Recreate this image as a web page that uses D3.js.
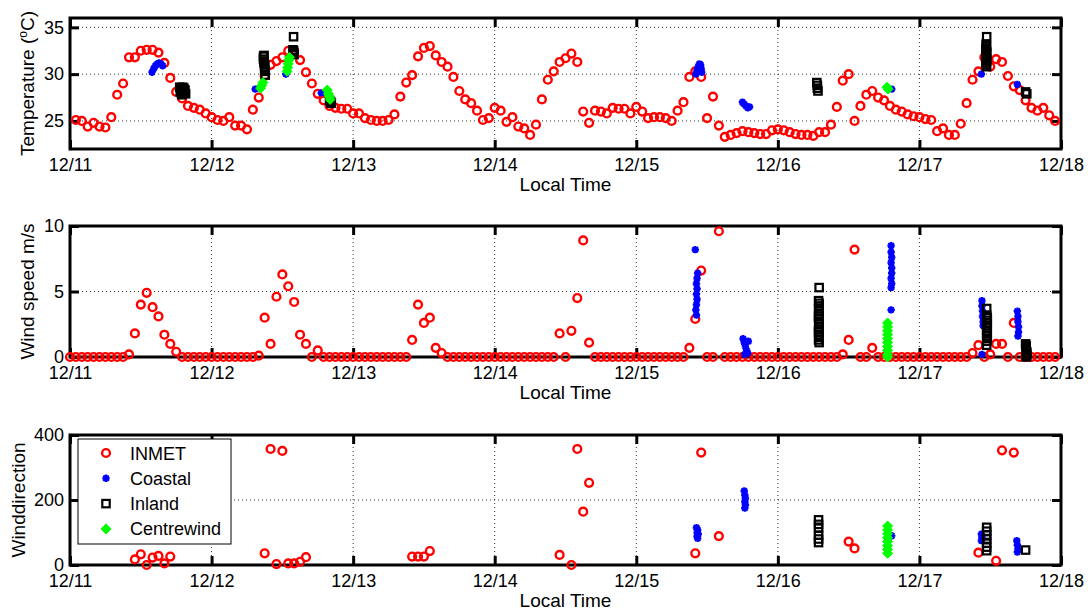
<!DOCTYPE html>
<html>
<head>
<meta charset="utf-8">
<script src="https://cdn.jsdelivr.net/npm/d3@7"></script>
<style>
  body { margin: 0; background: #fff; }
  text { font-family: Arial, "Liberation Sans", Helvetica, sans-serif; fill: #000; }
</style>
</head>
<body>
<div id="chart"></div>
<script>
// x axis: hours since 12/11 00:00, one tick per day
var dayLabels = ["12/11", "12/12", "12/13", "12/14", "12/15", "12/16", "12/17", "12/18"];

// INMET station, hourly (index = hour)
var inmetTemp = [
  null, 25.1, 25.0, 24.4, 24.8, 24.4, 24.3, 25.4, 27.8, 29.0, 31.8, 31.8, 32.5, 32.6, 32.6, 32.3, 31.2, 29.6, 28.1, 27.4, 26.6, 26.4, 26.2, 25.8,
  25.4, 25.1, 25.0, 25.4, 24.5, 24.5, 24.1, 26.2, 27.5, 29.8, 31.0, 31.4, 31.8, 32.5, 32.5, 31.5, 30.2, 29.0, 27.9, 27.2, 26.6, 26.4, 26.3, 26.3,
  25.8, 25.8, 25.3, 25.1, 25.0, 25.0, 25.1, 25.7, 27.6, 29.1, 29.9, 31.9, 32.8, 33.0, 32.0, 31.3, 30.8, 29.7, 28.2, 27.3, 26.9, 26.1, 25.1, 25.3,
  26.4, 26.1, 24.9, 25.4, 24.4, 24.2, 23.5, 24.6, 27.3, 29.4, 30.3, 31.3, 31.7, 32.2, 31.3, 26.0, 24.8, 26.1, 26.0, 25.8, 26.4, 26.3, 26.3, 25.8,
  26.5, 26.0, 25.3, 25.4, 25.4, 25.3, 25.0, 26.1, 27.0, 29.7, 30.3, 29.7, 25.3, 27.6, 24.5, 23.3, 23.5, 23.7, 23.9, 23.8, 23.7, 23.6, 23.6, 24.0,
  24.1, 24.0, 23.8, 23.6, 23.5, 23.5, 23.4, 23.8, 23.8, 24.6, 26.5, 29.3, 30.0, 25.0, 26.6, 27.8, 28.2, 27.5, 27.2, 26.6, 26.2, 26.0, 25.7, 25.5,
  25.4, 25.2, 25.1, 23.9, 24.2, 23.5, 23.5, 24.7, 26.9, 29.4, 30.3, 31.8, 30.8, 31.6, 31.3, 29.8, 28.7, 28.3, 27.2, 26.4, 26.1, 26.4, 25.6, 25.0
];
var inmetSpeed = [
  0, 0, 0, 0, 0, 0, 0, 0, 0, 0, 0.2, 1.8, 4.0, 4.9, 3.8, 3.1, 1.7, 1.0, 0.4, 0, 0, 0, 0, 0,
  0, 0, 0, 0, 0, 0, 0, 0, 0.1, 3.0, 1.0, 4.6, 6.3, 5.4, 4.2, 1.7, 1.0, 0, 0.5, 0, 0, 0, 0, 0,
  0, 0, 0, 0, 0, 0, 0, 0, 0, 0, 1.3, 4.0, 2.6, 3.0, 0.7, 0.3, 0, 0, 0, 0, 0, 0, 0, 0,
  0, 0, 0, 0, 0, 0, 0, 0, 0, 0, 0, 1.8, 0, 2.0, 4.5, 8.9, 1.1, 0, 0, 0, 0, 0, 0, 0,
  0, 0, 0, 0, 0, 0, 0, 0, 0, 0.7, 2.9, 6.6, 0, 0, 9.6, 0, 0, 0, 0, 0, 0, 0, 0, 0,
  0, 0, 0, 0, 0, 0, 0, 0, 0, 0, 0, 0.2, 1.3, 8.2, 0, 0, 0.7, 0, 0, 0, 0, 0, 0, 0,
  0, 0, 0, 0, 0, 0, 0, 0, 0, 0.3, 0.9, 0, 0.2, 1.0, 1.0, 0, 2.6, 0, 0, 0, 0, 0, 0, 0
];
// [hour, direction]
var inmetDir = [
  [11, 17], [12, 33], [13, 0], [14, 23], [15, 28], [16, 5], [17, 26],
  [33, 36], [34, 357], [35, 3], [36, 351], [37, 5], [38, 5], [39, 10], [40, 24],
  [58, 26], [59, 26], [60, 26], [61, 43],
  [83, 31], [85, 0], [86, 357], [87, 164], [88, 253],
  [106, 36], [107, 346], [110, 89],
  [132, 72], [133, 51],
  [154, 38], [157, 13], [158, 353], [160, 346]
];

// Coastal station [hour, value]
var coastalTemp = [
  [13.9, 30.2], [14.2, 30.6], [14.5, 30.9], [14.8, 31.1], [15.1, 31.2], [15.4, 31.1], [15.7, 30.9],
  [31.4, 28.4], [36.6, 30.0], [42.6, 28.0],
  [106.1, 30.0], [106.3, 30.4], [106.5, 30.8], [106.7, 31.1], [106.9, 31.0], [107.0, 30.6], [107.1, 30.2],
  [114.0, 27.0], [114.3, 26.8], [114.6, 26.6], [114.9, 26.4], [115.2, 26.5],
  [139.3, 28.4], [154.5, 30.0], [160.6, 28.9]
];
var coastalSpeed = [
  [106.0, 8.2], [106.4, 6.4], [106.3, 6.0], [106.2, 5.6], [106.3, 5.2], [106.2, 4.8], [106.3, 4.4], [106.2, 4.0], [106.1, 3.6], [106.2, 3.2],
  [114.1, 1.4], [114.3, 1.1], [114.5, 0.8], [114.7, 0.5], [114.9, 0.3], [115.0, 1.2], [114.4, 0.2],
  [139.2, 8.5], [139.2, 8.0], [139.3, 7.6], [139.2, 7.2], [139.3, 6.8], [139.3, 6.4], [139.2, 6.0], [139.3, 5.6], [139.2, 5.3], [139.2, 3.6],
  [154.6, 4.3], [154.6, 3.9], [154.7, 3.5], [154.7, 3.1], [154.8, 2.7], [154.8, 2.4], [154.6, 0.2],
  [160.6, 3.5], [160.7, 3.1], [160.7, 2.7], [160.8, 2.3], [160.8, 1.9], [160.7, 1.6]
];
var coastalDir = [
  [106.2, 115], [106.4, 108], [106.3, 100], [106.5, 95], [106.3, 88], [106.4, 82],
  [114.3, 228], [114.4, 215], [114.5, 205], [114.4, 195], [114.5, 185], [114.4, 175],
  [139.3, 90],
  [154.5, 95], [154.6, 85], [154.5, 75],
  [160.5, 75], [160.6, 62], [160.7, 50], [160.6, 40]
];

// Inland station [hour, value]
var inlandTemp = [
  [18.6, 28.6], [18.8, 28.4], [19.0, 28.2], [19.2, 28.3], [19.4, 28.0], [19.6, 27.9], [18.9, 27.9], [19.3, 28.5],
  [18.7, 28.1], [19.1, 28.6], [19.5, 28.3], [19.0, 27.8],
  [32.9, 32.0], [32.8, 31.6], [32.9, 31.2], [33.0, 30.8], [33.1, 30.3], [33.1, 29.9],
  [32.8, 31.9], [32.9, 31.4], [33.0, 31.0], [33.0, 30.5],
  [37.9, 34.0], [37.8, 32.6], [37.9, 32.3], [38.0, 32.1], [37.9, 32.5],
  [44.0, 27.2], [44.3, 26.9], [44.2, 27.0],
  [126.6, 29.1], [126.7, 28.8], [126.7, 28.5], [126.8, 28.2],
  [155.4, 34.0], [155.3, 33.2], [155.3, 32.8], [155.4, 32.4], [155.3, 32.0], [155.4, 31.6], [155.3, 31.2], [155.4, 30.8],
  [155.4, 33.0], [155.3, 32.6], [155.4, 32.2], [155.3, 31.8], [155.4, 31.4], [155.3, 31.0],
  [162.0, 28.1], [162.2, 27.9]
];
var inlandSpeed = [
  [127.0, 5.3], [126.9, 4.3], [127.0, 3.9], [127.0, 3.5], [126.9, 3.1], [127.0, 2.7], [127.0, 2.3], [126.9, 1.9], [127.0, 1.5], [127.0, 1.1],
  [127.0, 4.1], [126.9, 3.7], [127.0, 3.3], [126.9, 2.9], [127.0, 2.5], [126.9, 2.1], [127.0, 1.7], [126.9, 1.3],
  [155.4, 3.7], [155.4, 3.2], [155.5, 2.8], [155.5, 2.4], [155.4, 2.0], [155.5, 1.6], [155.4, 1.2], [155.4, 0.9],
  [155.5, 3.0], [155.4, 2.6], [155.5, 2.2], [155.4, 1.8], [155.5, 1.4],
  [162.0, 1.0], [162.1, 0.7], [162.2, 0.4], [162.2, 0.1], [162.1, 0.0], [162.1, 0.85], [162.1, 0.55], [162.2, 0.25]
];
var inlandDir = [
  [126.9, 139], [126.9, 125], [126.9, 113], [126.9, 92], [126.9, 80], [126.9, 69],
  [155.4, 116], [155.4, 104], [155.4, 92], [155.4, 80], [155.4, 67], [155.4, 55], [155.4, 44],
  [162.0, 46]
];

// Centrewind station [hour, value]
var centreTemp = [
  [32.3, 28.5], [32.5, 28.8], [32.7, 29.1],
  [36.8, 30.3], [36.9, 30.7], [37.0, 31.1], [37.1, 31.5], [37.2, 31.8],
  [43.6, 28.3], [43.8, 27.9], [44.0, 27.6], [44.1, 27.3],
  [138.5, 28.6], [138.7, 28.4]
];
var centreSpeed = [
  [138.6, 2.6], [138.6, 2.3], [138.6, 2.0], [138.6, 1.7], [138.6, 1.4], [138.6, 1.1], [138.6, 0.8], [138.6, 0.5], [138.6, 0.2], [138.6, 0.0]
];
var centreDir = [
  [138.6, 120], [138.6, 108], [138.6, 96], [138.6, 84], [138.6, 72], [138.6, 60], [138.6, 48], [138.6, 36]
];

var svgWidth = 1088;
var svgHeight = 610;
var left = 70, right = 1061;

var svg = d3.select("#chart")
  .append("svg")
  .attr("width", svgWidth)
  .attr("height", svgHeight);

var x = d3.scaleLinear().domain([0, 168]).range([left, right]);
var dayHours = dayLabels.map(function(d, i) { return i * 24; });

function hourly(arr) {
  return arr.map(function(v, i) { return [i, v]; }).filter(function(d) { return d[1] !== null; });
}

var panels = [
  { top: 18, bottom: 149, domain: [22, 36], ticks: [25, 30, 35], label: ["Temperature (", "o", "C)"], labelX: 34,
    inmet: hourly(inmetTemp), coastal: coastalTemp, inland: inlandTemp, centre: centreTemp },
  { top: 226, bottom: 357, domain: [0, 10], ticks: [0, 5, 10], label: ["Wind speed m/s"], labelX: 34,
    inmet: hourly(inmetSpeed), coastal: coastalSpeed, inland: inlandSpeed, centre: centreSpeed },
  { top: 435, bottom: 565, domain: [0, 400], ticks: [0, 200, 400], label: ["Winddirection"], labelX: 25,
    inmet: inmetDir, coastal: coastalDir, inland: inlandDir, centre: centreDir }
];

var colors = { inmet: "#ff0000", coastal: "#0000ff", inland: "#000000", centre: "#00ff00" };

// marker drawers
function drawCircle(g, cx, cy) {
  g.append("circle").attr("cx", cx).attr("cy", cy).attr("r", 3.9)
    .attr("fill", "none").attr("stroke", colors.inmet).attr("stroke-width", 2.4);
}
function drawStar(g, cx, cy) {
  var r = 3.7, s = r * 0.72;
  g.append("path")
    .attr("d", "M" + (cx - r) + "," + cy + "H" + (cx + r) + "M" + cx + "," + (cy - r) + "V" + (cy + r) +
      "M" + (cx - s) + "," + (cy - s) + "L" + (cx + s) + "," + (cy + s) +
      "M" + (cx - s) + "," + (cy + s) + "L" + (cx + s) + "," + (cy - s))
    .attr("stroke", colors.coastal).attr("stroke-width", 2.2).attr("fill", "none");
}
function drawSquare(g, cx, cy) {
  g.append("rect").attr("x", cx - 3.7).attr("y", cy - 3.7).attr("width", 7.4).attr("height", 7.4)
    .attr("fill", "none").attr("stroke", colors.inland).attr("stroke-width", 2.2);
}
function drawDiamond(g, cx, cy) {
  var r = 5;
  g.append("path")
    .attr("d", "M" + cx + "," + (cy - r) + "L" + (cx + r) + "," + cy + "L" + cx + "," + (cy + r) + "L" + (cx - r) + "," + cy + "Z")
    .attr("fill", colors.centre).attr("stroke", colors.centre).attr("stroke-width", 1);
}

panels.forEach(function(p) {
  var y = d3.scaleLinear().domain(p.domain).range([p.bottom, p.top]);
  var g = svg.append("g");

  // dotted grid
  var grid = g.append("g").attr("stroke", "#333").attr("stroke-width", 1).attr("stroke-dasharray", "1,3");
  dayHours.slice(1, -1).forEach(function(h) {
    grid.append("line").attr("x1", x(h)).attr("x2", x(h)).attr("y1", p.top).attr("y2", p.bottom);
  });
  p.ticks.forEach(function(t) {
    if (y(t) > p.top + 1 && y(t) < p.bottom - 1) {
      grid.append("line").attr("x1", left).attr("x2", right).attr("y1", y(t)).attr("y2", y(t));
    }
  });

  // axes
  var bottomAxis = d3.axisBottom(x).tickValues(dayHours)
    .tickFormat(function(d, i) { return dayLabels[i]; })
    .tickSizeInner(-9).tickSizeOuter(0).tickPadding(9);
  var topAxis = d3.axisTop(x).tickValues(dayHours).tickFormat("").tickSizeInner(-9).tickSizeOuter(0);
  var leftAxis = d3.axisLeft(y).tickValues(p.ticks).tickSizeInner(-9).tickSizeOuter(0).tickPadding(6);
  var rightAxis = d3.axisRight(y).tickValues(p.ticks).tickFormat("").tickSizeInner(-9).tickSizeOuter(0);

  var axes = [
    g.append("g").attr("transform", "translate(0," + p.bottom + ")").call(bottomAxis),
    g.append("g").attr("transform", "translate(0," + p.top + ")").call(topAxis),
    g.append("g").attr("transform", "translate(" + left + ",0)").call(leftAxis),
    g.append("g").attr("transform", "translate(" + right + ",0)").call(rightAxis)
  ];
  axes.forEach(function(a) {
    a.select(".domain").remove();
    a.attr("font-size", 18).attr("font-family", "Arial, 'Liberation Sans', sans-serif");
    a.selectAll(".tick line").attr("stroke", "#000").attr("stroke-width", 3);
    a.selectAll(".tick text").attr("fill", "#000");
  });

  g.append("rect")
    .attr("x", left).attr("y", p.top)
    .attr("width", right - left).attr("height", p.bottom - p.top)
    .attr("fill", "none").attr("stroke", "#000").attr("stroke-width", 3);

  // axis labels (temperature label has a superscript "o")
  var yl = g.append("text")
    .attr("transform", "translate(" + p.labelX + "," + ((p.top + p.bottom) / 2) + ") rotate(-90)")
    .attr("text-anchor", "middle")
    .style("font-size", "19px");
  yl.append("tspan").text(p.label[0]);
  if (p.label.length > 1) {
    yl.append("tspan").attr("dy", -7).style("font-size", "12px").text(p.label[1]);
    yl.append("tspan").attr("dy", 7).text(p.label[2]);
  }

  g.append("text")
    .attr("x", (left + right) / 2)
    .attr("y", p.bottom + 42)
    .attr("text-anchor", "middle")
    .style("font-size", "19px")
    .text("Local Time");

  // data, plotted in the original order
  var marks = g.append("g");
  p.inmet.forEach(function(d) { drawCircle(marks, x(d[0]), y(d[1])); });
  p.coastal.forEach(function(d) { drawStar(marks, x(d[0]), y(d[1])); });
  p.inland.forEach(function(d) { drawSquare(marks, x(d[0]), y(d[1])); });
  p.centre.forEach(function(d) { drawDiamond(marks, x(d[0]), y(d[1])); });
});

// legend in bottom panel
var legendNames = ["INMET", "Coastal", "Inland", "Centrewind"];
var legendDraw = [drawCircle, drawStar, drawSquare, drawDiamond];
var legend = svg.append("g");
legend.append("rect")
  .attr("x", 78).attr("y", 439).attr("width", 153).attr("height", 105)
  .attr("fill", "#fff").attr("stroke", "#000").attr("stroke-width", 1);
legendNames.forEach(function(name, i) {
  var ly = 453 + i * 25.3;
  legendDraw[i](legend, 106, ly);
  legend.append("text")
    .attr("x", 130).attr("y", ly + 6.5)
    .style("font-size", "18px")
    .text(name);
});
</script>
</body>
</html>
